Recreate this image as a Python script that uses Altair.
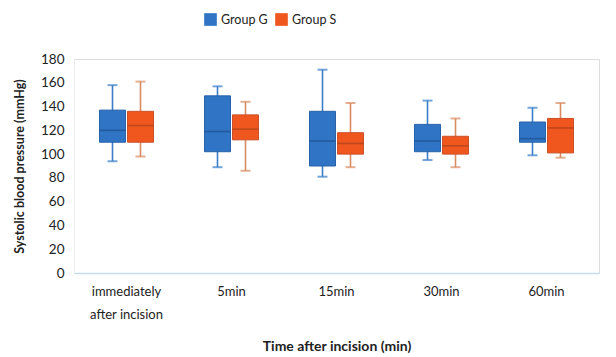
import altair as alt
import pandas as pd

times = ["immediately after incision", "5min", "15min", "30min", "60min"]
groups = ["Group G", "Group S"]

G_low = [94, 89, 81, 95, 99]
G_q1 = [110, 102, 90, 102, 110]
G_med = [120, 119, 111, 111, 113]
G_q3 = [137, 149, 136, 125, 127]
G_high = [158, 157, 171, 145, 139]

S_low = [98, 86, 89, 89, 97]
S_q1 = [110, 112, 100, 100, 101]
S_med = [124, 121, 109, 107, 122]
S_q3 = [136, 133, 118, 115, 130]
S_high = [161, 144, 143, 130, 143]

y_ticks = [0, 20, 40, 60, 80, 100, 120, 140, 160, 180]

rows = []
for i, t in enumerate(times):
    rows.append(dict(time=t, group="Group G", low=G_low[i], q1=G_q1[i], med=G_med[i], q3=G_q3[i], high=G_high[i]))
    rows.append(dict(time=t, group="Group S", low=S_low[i], q1=S_q1[i], med=S_med[i], q3=S_q3[i], high=S_high[i]))
df = pd.DataFrame(rows)

FONT = "Lato"
fill_scale = alt.Scale(domain=groups, range=["#2F74C5", "#F0571E"])
stroke_scale = alt.Scale(domain=groups, range=["#2862AA", "#C9502A"])
whisk_scale = alt.Scale(domain=groups, range=["#3A7DC9", "#D98B62"])
med_scale = alt.Scale(domain=groups, range=["#1F4F8C", "#A8401C"])

label_expr = "datum.value == 'immediately after incision' ? ['immediately', 'after incision'] : datum.value"

x = alt.X("time:N", sort=times, scale=alt.Scale(paddingInner=0, paddingOuter=0),
          axis=alt.Axis(title="Time after incision (min)", labelAngle=0, labelExpr=label_expr,
                        labelFont=FONT, labelFontSize=13, labelColor="#222222", labelPadding=12,
                        titleFont=FONT, titleFontSize=14, titleFontWeight="bold", titleColor="#222222",
                        titlePadding=18, domainColor="#C5DCEA", domainWidth=1.5, ticks=False,
                        labelLineHeight=23))
xo = alt.XOffset("group:N", sort=groups, scale=alt.Scale(domain=groups, paddingInner=0, paddingOuter=0.875))
yscale = alt.Scale(domain=[0, 180], nice=False)
yaxis = alt.Axis(title="Systolic blood pressure (mmHg)", values=y_ticks, grid=False,
                 labelOverlap=False, labelFlush=False,
                 labelFont=FONT, labelFontSize=13.5, labelColor="#222222", labelPadding=10,
                 titleFont=FONT, titleFontSize=12.5, titleFontWeight="bold", titleColor="#222222",
                 titlePadding=14, domain=True, domainColor="#EEEEEE", ticks=False)


def Y(field):
    return alt.Y(field, scale=yscale, axis=yaxis)


base = alt.Chart(df)

whisk = base.mark_rule(strokeWidth=1.6).encode(
    x=x, xOffset=xo,
    y=Y("low:Q"), y2="high:Q",
    color=alt.Color("group:N", scale=whisk_scale, legend=None),
)
cap_lo = base.mark_tick(size=10, thickness=2).encode(
    x=x, xOffset=xo, y=Y("low:Q"),
    color=alt.Color("group:N", scale=whisk_scale, legend=None),
)
cap_hi = base.mark_tick(size=10, thickness=2).encode(
    x=x, xOffset=xo, y=Y("high:Q"),
    color=alt.Color("group:N", scale=whisk_scale, legend=None),
)
box = base.mark_bar(size=26, strokeWidth=1).encode(
    x=x, xOffset=xo,
    y=Y("q1:Q"), y2="q3:Q",
    fill=alt.Fill("group:N", scale=fill_scale, title=None,
                  legend=alt.Legend(orient="none", direction="horizontal", legendX=130, legendY=-46,
                                    symbolType="square", symbolSize=160, symbolStrokeWidth=0,
                                    labelFont=FONT, labelFontSize=12.5, labelColor="#222222",
                                    columnPadding=7)),
    stroke=alt.Stroke("group:N", scale=stroke_scale, legend=None),
)
med = base.mark_tick(size=26, thickness=1.6).encode(
    x=x, xOffset=xo, y=Y("med:Q"),
    color=alt.Color("group:N", scale=med_scale, legend=None),
)

chart = alt.layer(whisk, cap_lo, cap_hi, box, med).resolve_scale(color="independent").properties(
    width=525, height=214
).configure_view(stroke="#F2F2F2", strokeWidth=1).configure(background="white")

chart.save("out.html", embed_options={"renderer": "svg", "actions": False})
